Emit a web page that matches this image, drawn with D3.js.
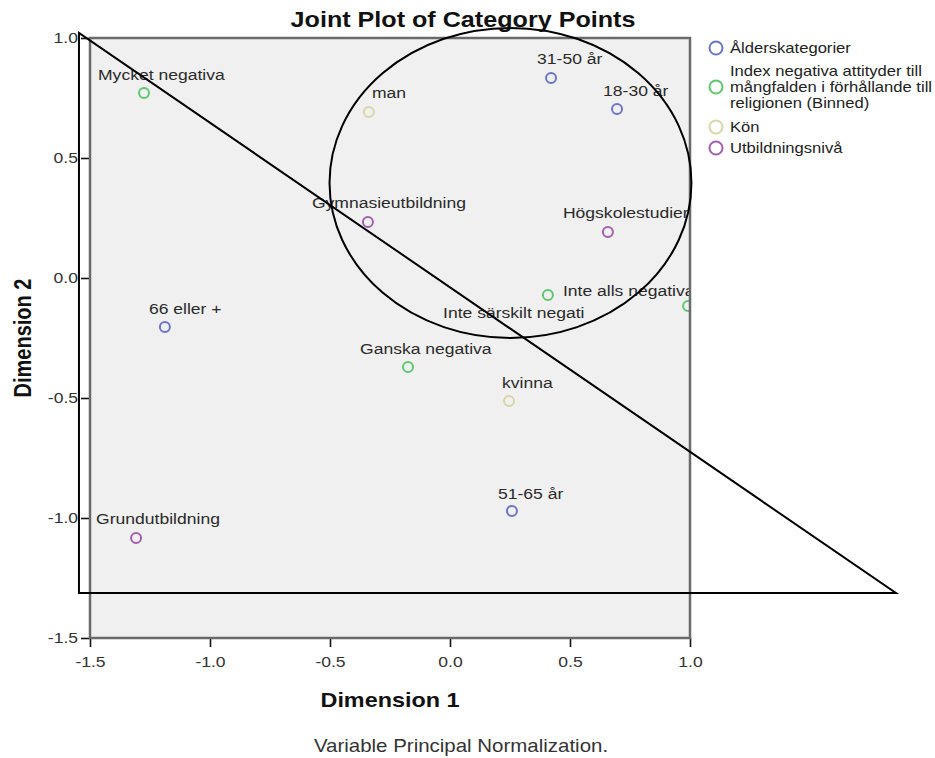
<!DOCTYPE html>
<html><head><meta charset="utf-8">
<script src="https://cdn.jsdelivr.net/npm/d3@7"></script>
<style>
body{margin:0;background:#fff}
text{font-family:"Liberation Sans",Arial,sans-serif}
</style></head>
<body><svg id="c" width="935" height="758"></svg>
<script>
// ---------- data ----------
const groups = ["Ålderskategorier",
  "Index negativa attityder till mångfalden i förhållande till religionen (Binned)",
  "Kön", "Utbildningsnivå"];
const legendLines = [["Ålderskategorier"],
  ["Index negativa attityder till", "mångfalden i förhållande till", "religionen (Binned)"],
  ["Kön"], ["Utbildningsnivå"]];
const pointLabels = ["18-30 år", "31-50 år", "51-65 år", "66 eller +",
  "Mycket negativa", "Ganska negativa", "Inte särskilt negati", "Inte alls negativa",
  "man", "kvinna",
  "Grundutbildning", "Gymnasieutbildning", "Högskolestudier"];
const pointGroup = [0, 0, 0, 0, 1, 1, 1, 1, 2, 2, 3, 3, 3];
const dim1 = [0.696, 0.421, 0.258, -1.188, -1.275, -0.175, 0.992, 0.408, -0.338, 0.246, -1.308, -0.342, 0.658];
const dim2 = [0.704, 0.833, -0.971, -0.204, 0.771, -0.371, -0.117, -0.071, 0.692, -0.513, -1.083, 0.233, 0.192];
const xTicks = [-1.5, -1.0, -0.5, 0.0, 0.5, 1.0];
const yTicks = [-1.5, -1.0, -0.5, 0.0, 0.5, 1.0];
const xDomain = [-1.5, 1.0];
const yDomain = [-1.5, 1.0];
const title = "Joint Plot of Category Points";
const xTitle = "Dimension 1";
const yTitle = "Dimension 2";
const footnote = "Variable Principal Normalization.";

// hand-drawn annotation (in data units)
const triangleX = [-1.546, -1.546, 1.858];
const triangleY = [1.021, -1.3125, -1.3125];
const ellipseC = [0.252, 0.396];
const ellipseR = [0.754, 0.646];

// ---------- styles ----------
const colors = ["#6a77c9", "#5fc76f", "#d8d6a6", "#a45eb0"];
const labelOffsets = [[-14,-13],[-14,-14],[-14,-12],[-16,-13],
  [-46,-13],[-48,-13],[-245,12],[15,1],
  [3,-14],[-7,-13],
  [-40,-14],[-56,-14],[-45,-14]];
const SX = 1.17;
const L = 90, R = 690, T = 38, B = 638;

const svg = d3.select("#c");
const x = d3.scaleLinear().domain(xDomain).range([L, R]);
const y = d3.scaleLinear().domain(yDomain).range([B, T]);
const st = (x0, y0) => `translate(${x0},${y0}) scale(${SX},1)`;

// plot frame
svg.append("rect").attr("x", L).attr("y", T).attr("width", R - L).attr("height", B - T)
  .attr("fill", "#f0f0f0");

const defs = svg.append("defs");
defs.append("clipPath").attr("id", "clip")
  .append("rect").attr("x", L).attr("y", T).attr("width", R - L).attr("height", B - T);
defs.append("clipPath").attr("id", "clipT")
  .append("rect").attr("x", L).attr("y", T).attr("width", R - L + 1).attr("height", B - T);

// axes
const f1 = d3.format(".1f");
const fmt = v => f1(v).replace("\u2212", "-");
const ax = svg.append("g").attr("transform", `translate(0,${B})`)
  .call(d3.axisBottom(x).tickValues(xTicks).tickFormat(fmt).tickSize(9).tickPadding(9));
const ay = svg.append("g").attr("transform", `translate(${L},0)`)
  .call(d3.axisLeft(y).tickValues(yTicks).tickFormat(fmt).tickSize(9).tickPadding(3));
[ax, ay].forEach(g => {
  g.select(".domain").remove();
  g.selectAll("line").attr("stroke", "#111").attr("stroke-width", 1.6);
  g.selectAll("text").attr("font-size", 15).attr("fill", "#333")
    .attr("font-family", '"Liberation Sans",Arial,sans-serif');
});
ax.selectAll("text").attr("transform", `scale(${SX},1)`);
ay.selectAll("text").attr("x", -12 / SX).attr("transform", `scale(${SX},1)`);

// points + labels
const idx = d3.range(pointLabels.length);
svg.append("g").attr("clip-path", "url(#clip)")
  .selectAll("circle").data(idx).join("circle")
  .attr("cx", i => x(dim1[i])).attr("cy", i => y(dim2[i])).attr("r", 5)
  .attr("fill", "none").attr("stroke", i => colors[pointGroup[i]]).attr("stroke-width", 2);
svg.append("g").attr("clip-path", "url(#clipT)")
  .selectAll("text").data(idx).join("text")
  .attr("transform", i => st(x(dim1[i]) + labelOffsets[i][0], y(dim2[i]) + labelOffsets[i][1]))
  .attr("font-size", 15).attr("fill", "#2a2a2a")
  .text(i => pointLabels[i]);

svg.append("rect").attr("x", L).attr("y", T).attr("width", R - L).attr("height", B - T)
  .attr("fill", "none").attr("stroke", "#6a6a6a").attr("stroke-width", 2.5);

// titles
svg.append("text").attr("transform", st(463, 27)).attr("text-anchor", "middle")
  .attr("font-size", 21.5).attr("font-weight", "bold").attr("fill", "#111").text(title);
svg.append("text").attr("transform", st((L + R) / 2, 707)).attr("text-anchor", "middle")
  .attr("font-size", 20).attr("font-weight", "bold").attr("fill", "#111").text(xTitle);
svg.append("text").attr("transform", `translate(31,${(T + B) / 2}) scale(${SX},1) rotate(-90)`)
  .attr("text-anchor", "middle")
  .attr("font-size", 20).attr("font-weight", "bold").attr("fill", "#111").text(yTitle);
svg.append("text").attr("transform", st(461, 752)).attr("text-anchor", "middle")
  .attr("font-size", 17.5).attr("fill", "#333").text(footnote);

// legend
const legRows = [48, 87, 127, 148];
const lg = svg.append("g");
legendLines.forEach((lines, k) => {
  lg.append("circle").attr("cx", 716).attr("cy", legRows[k]).attr("r", 6.5)
    .attr("fill", "none").attr("stroke", colors[k]).attr("stroke-width", 2);
  const n = lines.length;
  lines.forEach((ln, j) => {
    lg.append("text").attr("transform", st(730, legRows[k] + 5 + (j - (n - 1) / 2) * 16))
      .attr("font-size", 14.2).attr("fill", "#222").text(ln);
  });
});

// annotation
const tri = d3.line()(triangleX.map((v, i) => [x(v), y(triangleY[i])]));
svg.append("path").attr("d", tri + "Z").attr("fill", "none").attr("stroke", "#000").attr("stroke-width", 2);
svg.append("ellipse").attr("cx", x(ellipseC[0])).attr("cy", y(ellipseC[1]))
  .attr("rx", x(ellipseC[0] + ellipseR[0]) - x(ellipseC[0]))
  .attr("ry", y(ellipseC[1] - ellipseR[1]) - y(ellipseC[1]))
  .attr("fill", "none").attr("stroke", "#000").attr("stroke-width", 2);
</script></body></html>
